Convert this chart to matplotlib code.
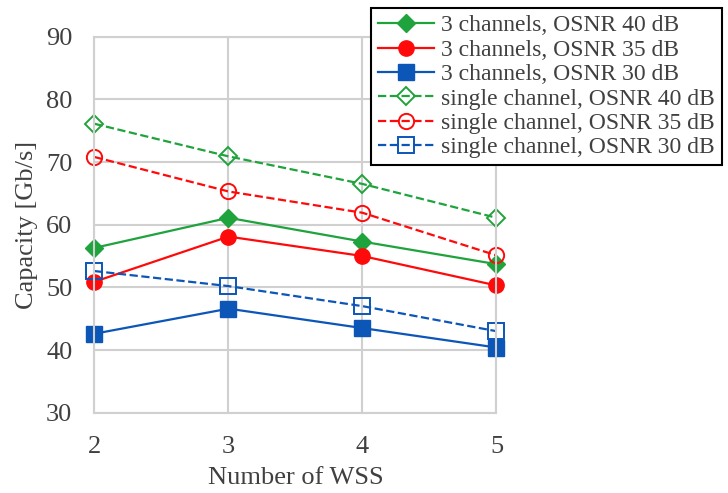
import matplotlib
matplotlib.use("Agg")
import matplotlib.pyplot as plt

plt.rcParams['font.family'] = ['Liberation Serif', 'DejaVu Serif']

# number of WSS on the path
n_wss = [2, 3, 4, 5]

# capacity in Gb/s, three simultaneous channels
cap_3ch_40 = [56.3, 61.1, 57.3, 53.7]
cap_3ch_35 = [50.9, 58.1, 55.0, 50.3]
cap_3ch_30 = [42.6, 46.6, 43.5, 40.4]

# capacity in Gb/s, a single channel
cap_1ch_40 = [76.1, 70.9, 66.5, 61.1]
cap_1ch_35 = [70.8, 65.3, 61.9, 55.1]
cap_1ch_30 = [52.6, 50.2, 47.0, 43.0]

labels = [
    '3 channels, OSNR 40 dB',
    '3 channels, OSNR 35 dB',
    '3 channels, OSNR 30 dB',
    'single channel, OSNR 40 dB',
    'single channel, OSNR 35 dB',
    'single channel, OSNR 30 dB',
]

green = '#1fa33c'
red = '#ff0a0a'
blue = '#0c56b8'
text_col = '#404040'
grid_col = '#d0d0d0'

fig = plt.figure(figsize=(7.28, 4.93), dpi=100)
ax = fig.add_axes([0.1298, 0.1629, 0.5522, 0.7627])

ax.plot(n_wss, cap_3ch_40, '-', color=green, lw=1.6, marker='D', ms=9.5,
        mfc=green, mec=green, label=labels[0])
ax.plot(n_wss, cap_3ch_35, '-', color=red, lw=1.6, marker='o', ms=11,
        mfc=red, mec=red, label=labels[1])
ax.plot(n_wss, cap_3ch_30, '-', color=blue, lw=1.6, marker='s', ms=11,
        mfc=blue, mec=blue, label=labels[2])
ax.plot(n_wss, cap_1ch_40, '--', color=green, lw=1.6, marker='D', ms=9,
        mfc='none', mec=green, mew=1.4, label=labels[3])
ax.plot(n_wss, cap_1ch_35, '--', color=red, lw=1.6, marker='o', ms=11,
        mfc='none', mec=red, mew=1.4, label=labels[4])
ax.plot(n_wss, cap_1ch_30, '--', color=blue, lw=1.6, marker='s', ms=11,
        mfc='none', mec=blue, mew=1.4, label=labels[5])

ax.set_xlim(2, 5)
ax.set_ylim(30, 90)
ax.set_xticks(n_wss)
ax.set_yticks(range(30, 91, 10))
ax.grid(True, color=grid_col, lw=1.5)
ax.set_axisbelow(True)
for sp in ax.spines.values():
    sp.set_color(grid_col)
    sp.set_linewidth(1.5)
for line in ax.lines:
    line.set_clip_on(False)

ax.tick_params(length=0, labelsize=19, colors=text_col)
ax.tick_params(axis='x', pad=17)
ax.tick_params(axis='y', pad=16)
ax.set_xlabel('Number of WSS', fontsize=19, color=text_col, labelpad=6)
ax.set_ylabel('Capacity [Gb/s]', fontsize=19, color=text_col, labelpad=6)

leg = fig.legend(loc='upper right', bbox_to_anchor=(0.992, 0.984),
                 borderaxespad=0, fontsize=17, handlelength=2.4,
                 handletextpad=0.3, labelspacing=0.12, borderpad=0.3,
                 fancybox=False, framealpha=1, edgecolor='black')
leg.get_frame().set_linewidth(1.5)
for t in leg.get_texts():
    t.set_color(text_col)

fig.savefig('out.png', dpi=100)
